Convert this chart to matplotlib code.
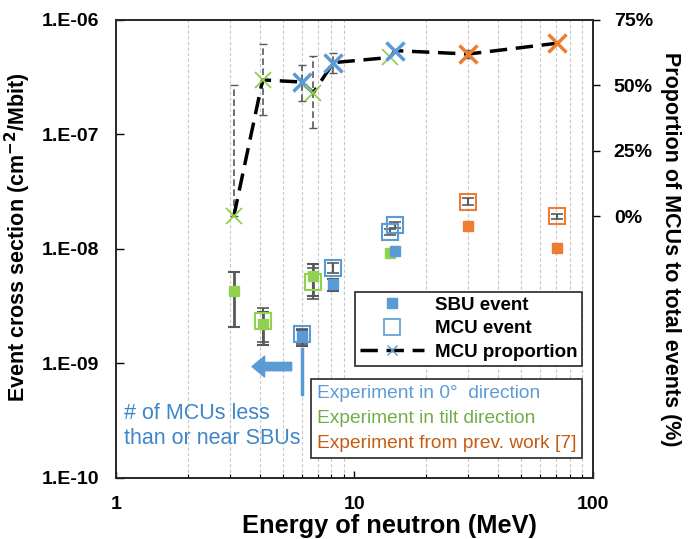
import matplotlib
matplotlib.use("Agg")
import matplotlib.pyplot as plt
import numpy as np
from matplotlib.lines import Line2D
from matplotlib.ticker import FixedLocator, NullFormatter, FixedFormatter

plt.rcParams['font.family'] = ['Liberation Sans', 'DejaVu Sans']

BLUE = '#5B9BD5'
GREEN = '#92D050'
ORANGE = '#ED7D31'
ERRC = '#595959'

# ---- cross-section data (cm^2/Mbit) ----
# SBU (filled squares)
sbu_E = [3.12, 4.12, 6.0, 6.72, 8.15, 14.1, 14.8, 30.0, 70.4]
sbu_val = [4.3e-9, 2.2e-9, 1.73e-9, 5.8e-9, 4.94e-9, 9.3e-9, 9.6e-9, 1.58e-8, 1.01e-8]
sbu_lo = [2.1e-9, 1.45e-9, 1.42e-9, 3.89e-9, 4.3e-9, 9.3e-9, 9.6e-9, 1.58e-8, 1.01e-8]
sbu_hi = [6.3e-9, 2.84e-9, 1.95e-9, 7.34e-9, 5.43e-9, 9.3e-9, 9.6e-9, 1.58e-8, 1.01e-8]
sbu_col = [GREEN, GREEN, BLUE, GREEN, BLUE, GREEN, BLUE, ORANGE, ORANGE]

# MCU (open squares)
mcu_E = [4.12, 6.0, 6.72, 8.15, 14.1, 14.8, 30.0, 70.4]
mcu_val = [2.35e-9, 1.8e-9, 5.2e-9, 6.87e-9, 1.4e-8, 1.62e-8, 2.59e-8, 1.94e-8]
mcu_lo = [1.55e-9, 1.48e-9, 3.64e-9, 6.2e-9, 1.32e-8, 1.52e-8, 2.42e-8, 1.83e-8]
mcu_hi = [3.03e-9, 1.99e-9, 6.87e-9, 7.5e-9, 1.48e-8, 1.72e-8, 2.77e-8, 2.03e-8]
mcu_col = [GREEN, BLUE, GREEN, BLUE, BLUE, BLUE, ORANGE, ORANGE]

# ---- MCU proportion (%) ----
prop_E = [3.12, 4.12, 6.0, 6.72, 8.15, 14.1, 14.8, 30.0, 70.4]
prop_val = [0.1, 52.1, 51.3, 47.2, 58.7, 60.7, 63.3, 62.0, 66.1]
prop_lo = [0.1, 38.7, 44.2, 33.9, 54.6, 60.7, 63.3, 60.5, 66.1]
prop_hi = [50.0, 65.7, 57.8, 61.4, 62.5, 60.7, 63.3, 63.5, 66.1]
prop_col = [GREEN, GREEN, BLUE, GREEN, BLUE, GREEN, BLUE, ORANGE, ORANGE]
prop_big = [False, False, True, False, True, False, True, True, True]

left_ticks = [1e-10, 1e-9, 1e-8, 1e-7, 1e-6]
left_labels = ['1.E-10', '1.E-09', '1.E-08', '1.E-07', '1.E-06']
right_ticks = [0, 25, 50, 75]
right_labels = ['0%', '25%', '50%', '75%']
x_ticks = [1, 10, 100]
x_labels = ['1', '10', '100']

fig = plt.figure(figsize=(6.95, 5.39), dpi=100)
ax = fig.add_axes([0.1669, 0.1132, 0.6863, 0.8497])
ax.set_xscale('log')
ax.set_yscale('log')
ax.set_xlim(1, 100)
ax.set_ylim(1e-10, 1e-6)

# vertical dashed gridlines at minor positions
ax.xaxis.set_minor_locator(FixedLocator([2, 3, 4, 5, 6, 7, 8, 9, 20, 30, 40, 50, 60, 70, 80, 90]))
ax.xaxis.set_minor_formatter(NullFormatter())
ax.grid(which='minor', axis='x', color='#C8C8C8', linestyle=(0, (3, 2)), linewidth=0.8)
ax.set_axisbelow(True)

ax.xaxis.set_major_locator(FixedLocator(x_ticks))
ax.xaxis.set_major_formatter(FixedFormatter(x_labels))
ax.yaxis.set_major_locator(FixedLocator(left_ticks))
ax.yaxis.set_major_formatter(FixedFormatter(left_labels))
ax.yaxis.set_minor_locator(FixedLocator([]))
ax.tick_params(axis='x', which='major', direction='in', length=5, width=1, pad=13, labelsize=14)
ax.tick_params(axis='x', which='minor', direction='in', length=3, width=0.8)
ax.tick_params(axis='y', which='major', direction='in', length=6, width=1, pad=12, labelsize=14)
for lab in ax.get_xticklabels() + ax.get_yticklabels():
    lab.set_fontweight('bold')
for s in ax.spines.values():
    s.set_color('#262626')
    s.set_linewidth(1.2)

# error bars for cross sections
for E, v, lo, hi in zip(sbu_E, sbu_val, sbu_lo, sbu_hi):
    if hi > lo:
        ax.errorbar([E], [v], yerr=[[v - lo], [hi - v]], fmt='none', ecolor=ERRC,
                    elinewidth=2, capsize=4, capthick=1.5, zorder=3)
for E, v, lo, hi in zip(mcu_E, mcu_val, mcu_lo, mcu_hi):
    ax.errorbar([E], [v], yerr=[[v - lo], [hi - v]], fmt='none', ecolor=ERRC,
                elinewidth=1.5, capsize=4, capthick=1.2, zorder=3)

for E, v, c in zip(mcu_E, mcu_val, mcu_col):
    ax.plot([E], [v], marker='s', markersize=11, markerfacecolor='none',
            markeredgecolor=c, markeredgewidth=1.5, linestyle='none', zorder=4)
for E, v, c in zip(sbu_E, sbu_val, sbu_col):
    ax.plot([E], [v], marker='s', markersize=7, color=c, linestyle='none', zorder=5)

# annotation
ax.plot([6.0, 6.0], [1.35e-9, 5.4e-10], color=BLUE, linewidth=2.5, zorder=2)
ax.annotate('', xy=(3.72, 9.4e-10), xytext=(5.45, 9.4e-10),
            arrowprops=dict(facecolor=BLUE, edgecolor=BLUE, width=6, headwidth=15, headlength=9),
            zorder=2)
ax.text(1.085, 2.84e-10, '# of MCUs less\nthan or near SBUs', color='#3F86C8', fontsize=15.5,
        ha='left', va='center', linespacing=1.3)

ax.set_xlabel('Energy of neutron (MeV)', fontsize=18.3, fontweight='bold', labelpad=1)
ax.xaxis.label.set_x(0.574)
ax.set_ylabel('Event cross section (cm$^{\\mathbf{-2}}$/Mbit)', fontsize=15.5,
              fontweight='bold', labelpad=6)
ax.yaxis.label.set_y(0.526)

# right axis
ax2 = ax.twinx()
ax2.set_ylim(-100, 75)
ax2.yaxis.set_major_locator(FixedLocator(right_ticks))
ax2.yaxis.set_major_formatter(FixedFormatter(right_labels))
ax2.tick_params(axis='y', direction='out', length=5, width=1, pad=10, labelsize=14)
for lab in ax2.get_yticklabels():
    lab.set_fontweight('bold')
for s in ax2.spines.values():
    s.set_color('#262626')
    s.set_linewidth(1.2)
ax2.set_ylabel('Proportion of MCUs to total events (%)', fontsize=15.5, fontweight='bold',
               rotation=270, labelpad=20)

for E, v, lo, hi in zip(prop_E, prop_val, prop_lo, prop_hi):
    if hi > lo:
        eb = ax2.errorbar([E], [v], yerr=[[v - lo], [hi - v]], fmt='none', ecolor=ERRC,
                          elinewidth=1.2, capsize=3, capthick=1.0, zorder=3)
        eb[2][0].set_linestyle((0, (4, 2)))
ax2.plot(prop_E, prop_val, color='black', linewidth=2.5, linestyle=(0, (5, 2.5)), zorder=4)
for E, v, c, big in zip(prop_E, prop_val, prop_col, prop_big):
    ax2.plot([E], [v], marker='x', markersize=13 if big else 11,
             markeredgewidth=2.5 if big else 1.3, color=c, linestyle='none', zorder=5)

# legend 1
h1 = Line2D([], [], marker='s', color=BLUE, linestyle='none', markersize=7)
h2 = Line2D([], [], marker='s', markerfacecolor='none', markeredgecolor=BLUE,
            markeredgewidth=1.2, linestyle='none', markersize=11)
h3 = Line2D([], [], marker='x', color='black', markeredgecolor=BLUE, linestyle=(0, (5, 2.5)),
            linewidth=2.5, markersize=7)
leg1 = ax2.legend([h1, h2, h3], ['SBU event', 'MCU event', 'MCU proportion'],
                  loc='upper right', bbox_to_anchor=(0.977, 0.406), fancybox=False,
                  edgecolor='#262626', framealpha=1, prop=dict(size=13.5, weight='bold'),
                  handlelength=3.4, borderpad=0.25, labelspacing=0.34, handletextpad=0.6,
                  borderaxespad=0)
leg1.get_frame().set_linewidth(1.2)
ax2.add_artist(leg1)

# legend 2 (text box)
blank = [Line2D([], [], linestyle='none') for _ in range(3)]
leg2 = ax2.legend(blank, ['Experiment in 0°  direction', 'Experiment in tilt direction',
                          'Experiment from prev. work [7]'],
                  loc='lower right', bbox_to_anchor=(0.977, 0.044), fancybox=False,
                  edgecolor='#262626', framealpha=1, prop=dict(size=13.8),
                  handlelength=0, handletextpad=0, borderpad=0.3, labelspacing=0.4,
                  labelcolor=['#5B9BD5', '#70AD47', '#C55A11'], borderaxespad=0)
leg2.get_frame().set_linewidth(1.2)

fig.savefig('out.png', dpi=100)
